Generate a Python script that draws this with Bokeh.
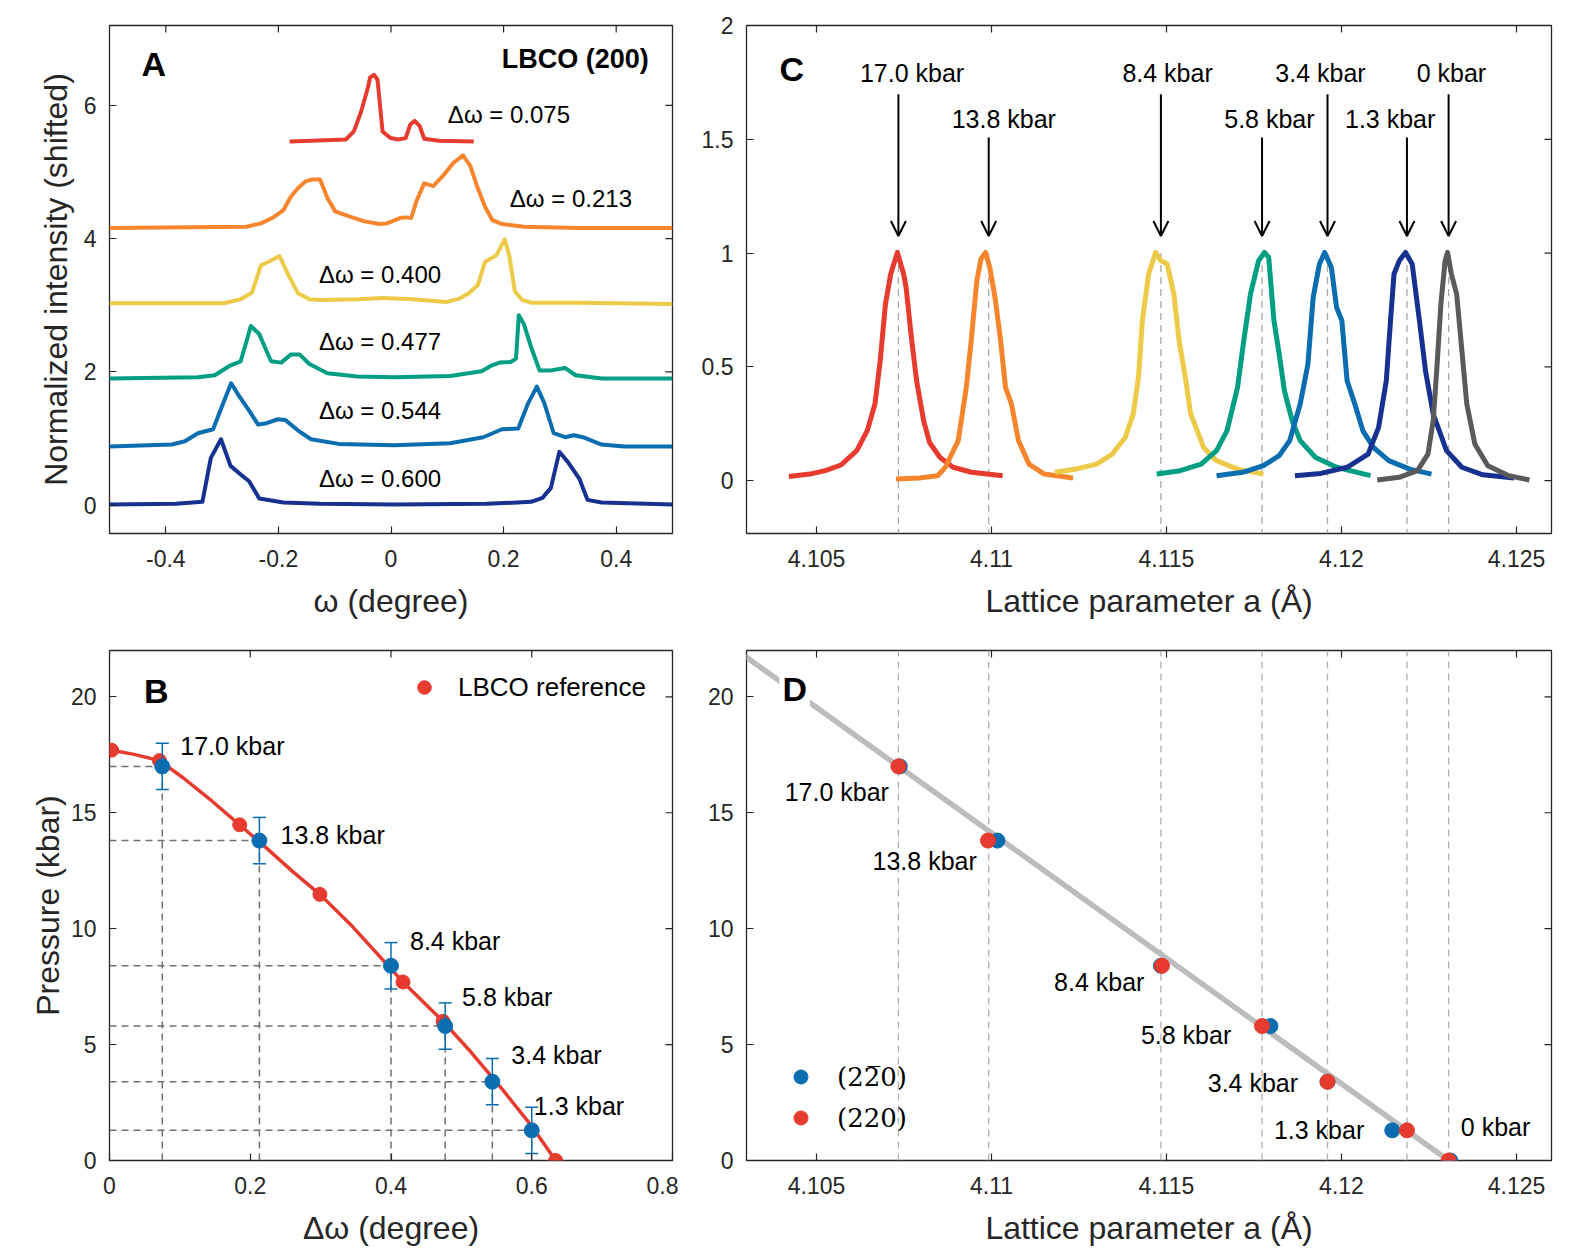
from bokeh.plotting import figure
from bokeh.layouts import row, column
from bokeh.models import (FixedTicker, ColumnDataSource, Whisker, TeeHead,
                          Arrow, OpenHead, Label, Legend, LegendItem, Range1d)
from bokeh.core.properties import value
from bokeh.embed import file_html
from bokeh.resources import INLINE

FONT = "Liberation Sans"
SERIF = "DejaVu Serif"
RED, ORANGE, YELLOW = "#e63b2e", "#f7852e", "#edca48"
GREEN, BLUE, NAVY, DGRAY = "#009e82", "#0a6db0", "#16318f", "#5a5a5a"
AXC = "#262626"

# ---------------- Panel A : rocking curves (shifted) ----------------
a_labels = ["Δω = 0.075", "Δω = 0.213", "Δω = 0.400", "Δω = 0.477", "Δω = 0.544", "Δω = 0.600"]
a_label_x = [0.101, 0.211, -0.128, -0.128, -0.128, -0.128]
a_label_y = [5.87, 4.61, 3.47, 2.45, 1.42, 0.40]

w075 = [-0.180, -0.080, -0.066, -0.053, -0.041, -0.037, -0.030, -0.024, -0.019, -0.015, -0.001,
        0.013, 0.026, 0.034, 0.042, 0.051, 0.059, 0.085, 0.147]
y075 = [5.46, 5.49, 5.61, 5.91, 6.27, 6.42, 6.46, 6.39, 5.96, 5.61, 5.51, 5.49, 5.51, 5.71, 5.77,
        5.69, 5.50, 5.47, 5.46]
w213 = [-0.500, -0.257, -0.231, -0.211, -0.191, -0.178, -0.165, -0.152, -0.139, -0.126, -0.113,
        -0.099, -0.073, -0.047, -0.020, -0.007, 0.016, 0.026, 0.036, 0.045, 0.059, 0.075, 0.091,
        0.111, 0.128, 0.141, 0.154, 0.167, 0.180, 0.197, 0.236, 0.335, 0.500]
y213 = [4.16, 4.18, 4.23, 4.31, 4.43, 4.63, 4.76, 4.86, 4.89, 4.89, 4.61, 4.41, 4.33, 4.26, 4.22,
        4.23, 4.31, 4.32, 4.31, 4.56, 4.83, 4.79, 4.93, 5.14, 5.25, 5.09, 4.76, 4.48, 4.28, 4.22,
        4.18, 4.16, 4.16]
w400 = [-0.500, -0.297, -0.267, -0.247, -0.231, -0.218, -0.198, -0.182, -0.165, -0.145, -0.126,
        -0.060, -0.014, 0.039, 0.098, 0.121, 0.138, 0.154, 0.167, 0.187, 0.202, 0.210, 0.220,
        0.233, 0.249, 0.335, 0.500]
y400 = [3.03, 3.03, 3.09, 3.19, 3.60, 3.65, 3.74, 3.45, 3.18, 3.09, 3.08, 3.09, 3.11, 3.09, 3.05,
        3.10, 3.18, 3.30, 3.65, 3.75, 3.99, 3.75, 3.21, 3.08, 3.04, 3.04, 3.02]
w477 = [-0.500, -0.343, -0.313, -0.287, -0.267, -0.257, -0.249, -0.234, -0.224, -0.213, -0.195,
        -0.178, -0.162, -0.145, -0.113, -0.060, 0.006, 0.105, 0.161, 0.177, 0.193, 0.213, 0.222,
        0.227, 0.236, 0.249, 0.264, 0.282, 0.309, 0.328, 0.374, 0.500]
y477 = [1.90, 1.92, 1.95, 2.09, 2.16, 2.45, 2.69, 2.57, 2.37, 2.16, 2.14, 2.26, 2.26, 2.12, 1.98,
        1.93, 1.92, 1.94, 2.01, 2.09, 2.14, 2.15, 2.20, 2.85, 2.72, 2.37, 2.02, 2.02, 2.06, 1.95,
        1.90, 1.90]
w544 = [-0.500, -0.389, -0.366, -0.343, -0.316, -0.300, -0.284, -0.270, -0.252, -0.236, -0.221,
        -0.201, -0.188, -0.165, -0.142, -0.093, 0.006, 0.105, 0.164, 0.197, 0.226, 0.243, 0.259,
        0.272, 0.289, 0.309, 0.325, 0.341, 0.374, 0.414, 0.500]
y544 = [0.88, 0.91, 0.96, 1.08, 1.14, 1.49, 1.83, 1.64, 1.42, 1.21, 1.23, 1.29, 1.28, 1.12, 0.99,
        0.92, 0.90, 0.93, 1.02, 1.14, 1.15, 1.52, 1.78, 1.54, 1.08, 1.02, 1.05, 1.02, 0.91, 0.88,
        0.88]
w600 = [-0.500, -0.382, -0.335, -0.320, -0.302, -0.285, -0.267, -0.252, -0.234, -0.191, -0.126,
        0.006, 0.170, 0.249, 0.269, 0.284, 0.299, 0.315, 0.335, 0.349, 0.374, 0.500]
y600 = [0.01, 0.02, 0.05, 0.71, 0.99, 0.59, 0.46, 0.36, 0.10, 0.04, 0.02, 0.01, 0.02, 0.05, 0.11,
        0.26, 0.80, 0.64, 0.39, 0.08, 0.04, 0.01]

a_xticks = [-0.4, -0.2, 0, 0.2, 0.4]
a_xtick_labels = ["-0.4", "-0.2", "0", "0.2", "0.4"]
a_yticks = [0, 2, 4, 6]
a_ytick_labels = ["0", "2", "4", "6"]

# ---------------- Panel C : lattice-parameter peaks ----------------
pressures = [17.0, 13.8, 8.4, 5.8, 3.4, 1.3, 0.0]
p_labels = ["17.0 kbar", "13.8 kbar", "8.4 kbar", "5.8 kbar", "3.4 kbar", "1.3 kbar", "0 kbar"]
peak_a = [4.10734, 4.10992, 4.11484, 4.11773, 4.11960, 4.12187, 4.12306]
arrow_top = [1.698, 1.508, 1.698, 1.508, 1.698, 1.508, 1.698]
c_label_a = [4.10773, 4.11035, 4.11503, 4.11794, 4.11940, 4.12139, 4.12314]
c_label_y = [1.79, 1.59, 1.79, 1.59, 1.79, 1.59, 1.79]

c_a_170 = [4.10421, 4.10481, 4.10525, 4.10570, 4.10615, 4.10645, 4.10667, 4.10682, 4.10697,
           4.10712, 4.10731, 4.10749, 4.10756, 4.10771, 4.10786, 4.10806, 4.10823, 4.10853,
           4.10890, 4.10943, 4.11032]
c_i_170 = [0.018, 0.029, 0.044, 0.069, 0.132, 0.220, 0.337, 0.527, 0.776, 0.908, 1.003, 0.908,
           0.849, 0.630, 0.439, 0.264, 0.168, 0.102, 0.059, 0.037, 0.022]
c_a_138 = [4.10727, 4.10794, 4.10846, 4.10868, 4.10905, 4.10928, 4.10943, 4.10958, 4.10970,
           4.10983, 4.10995, 4.11010, 4.11025, 4.11040, 4.11057, 4.11077, 4.11107, 4.11151,
           4.11233]
c_i_138 = [0.007, 0.012, 0.022, 0.059, 0.176, 0.410, 0.630, 0.878, 0.974, 1.003, 0.937, 0.805,
           0.630, 0.410, 0.337, 0.176, 0.073, 0.029, 0.012]
c_a_84 = [4.11181, 4.11241, 4.11300, 4.11345, 4.11382, 4.11405, 4.11420, 4.11431, 4.11449,
          4.11469, 4.11484, 4.11502, 4.11521, 4.11536, 4.11554, 4.11569, 4.11584, 4.11606,
          4.11643, 4.11703, 4.11777]
c_i_84 = [0.037, 0.051, 0.073, 0.117, 0.190, 0.293, 0.454, 0.703, 0.908, 1.003, 0.966, 0.952,
          0.820, 0.615, 0.454, 0.293, 0.234, 0.146, 0.088, 0.051, 0.029]
c_a_58 = [4.11472, 4.11539, 4.11599, 4.11643, 4.11673, 4.11703, 4.11722, 4.11740, 4.11763,
          4.11780, 4.11792, 4.11807, 4.11822, 4.11837, 4.11859, 4.11882, 4.11926, 4.11986,
          4.12083]
c_i_58 = [0.029, 0.044, 0.073, 0.132, 0.220, 0.410, 0.630, 0.820, 0.966, 1.003, 0.981, 0.703,
          0.556, 0.395, 0.264, 0.176, 0.102, 0.059, 0.022]
c_a_34 = [4.11643, 4.11718, 4.11777, 4.11822, 4.11852, 4.11882, 4.11904, 4.11919, 4.11937,
          4.11952, 4.11971, 4.11986, 4.12001, 4.12016, 4.12038, 4.12061, 4.12091, 4.12135,
          4.12195, 4.12257]
c_i_34 = [0.022, 0.037, 0.066, 0.110, 0.176, 0.337, 0.512, 0.805, 0.952, 1.003, 0.937, 0.761,
          0.703, 0.439, 0.337, 0.220, 0.146, 0.088, 0.051, 0.029]
c_a_13 = [4.11867, 4.11941, 4.12016, 4.12076, 4.12106, 4.12128, 4.12140, 4.12150, 4.12165,
          4.12183, 4.12202, 4.12225, 4.12240, 4.12262, 4.12300, 4.12344, 4.12404, 4.12493]
c_i_13 = [0.022, 0.032, 0.059, 0.117, 0.234, 0.439, 0.703, 0.908, 0.966, 1.003, 0.952, 0.674,
          0.483, 0.293, 0.132, 0.059, 0.026, 0.012]
c_a_0 = [4.12102, 4.12165, 4.12217, 4.12247, 4.12262, 4.12272, 4.12284, 4.12296, 4.12303,
         4.12314, 4.12329, 4.12344, 4.12358, 4.12381, 4.12418, 4.12478, 4.12537]
c_i_0 = [0.003, 0.015, 0.044, 0.117, 0.264, 0.483, 0.776, 0.966, 1.003, 0.908, 0.820, 0.571,
         0.337, 0.161, 0.066, 0.022, 0.003]

lat_ticks = [4.105, 4.11, 4.115, 4.12, 4.125]
lat_tick_labels = ["4.105", "4.11", "4.115", "4.12", "4.125"]
c_yticks = [0, 0.5, 1, 1.5, 2]
c_ytick_labels = ["0", "0.5", "1", "1.5", "2"]

# ---------------- Panel B : pressure calibration ----------------
ref_dw = [0.003, 0.071, 0.185, 0.299, 0.417, 0.474, 0.634]
ref_p = [17.70, 17.25, 14.48, 11.48, 7.70, 6.00, 0.00]
fit_dw = [0.003, 0.035, 0.071, 0.105, 0.145, 0.185, 0.220, 0.260, 0.299, 0.345, 0.390, 0.417,
          0.474, 0.510, 0.560, 0.600, 0.634]
fit_p = [17.70, 17.52, 17.25, 16.50, 15.52, 14.48, 13.56, 12.47, 11.48, 10.10, 8.60, 7.70,
         6.00, 4.80, 3.00, 1.48, 0.00]
meas_dw = [0.075, 0.213, 0.400, 0.477, 0.544, 0.600]
meas_p = [17.0, 13.8, 8.4, 5.8, 3.4, 1.3]
meas_err = [1.0, 1.0, 1.0, 1.0, 1.0, 1.0]
b_labels = ["17.0 kbar", "13.8 kbar", "8.4 kbar", "5.8 kbar", "3.4 kbar", "1.3 kbar"]
b_label_x = [0.1005, 0.243, 0.427, 0.501, 0.571, 0.603]
b_label_y = [17.86, 14.05, 9.45, 7.07, 4.55, 2.33]
b_xticks = [0, 0.2, 0.4, 0.6, 0.8]
b_xtick_labels = ["0", "0.2", "0.4", "0.6", "0.8"]
p_ticks = [0, 5, 10, 15, 20]
p_tick_labels = ["0", "5", "10", "15", "20"]

# ---------------- Panel D : pressure vs lattice parameter ----------------
a_2m20 = [4.10738, 4.11017, 4.11484, 4.11797, 4.11960, 4.12145, 4.12311]
a_220 = [4.10734, 4.10990, 4.11487, 4.11773, 4.11960, 4.12187, 4.12306]
fit_slope = -1082.0      # kbar per Angstrom
fit_a_zero = 4.12306     # lattice parameter at zero pressure
d_label_a = [4.10707, 4.10958, 4.11437, 4.11685, 4.11876, 4.12065, 4.12341]
d_label_p = [15.90, 12.92, 7.68, 5.43, 3.35, 1.32, 1.43]
d_legend_labels = ["(22\u03050)", "(220)"]

TICK_PX = 7

# ---------------- helpers ----------------
def make_fig(xr, yr, fw, fh, bl, br, bt, bb):
    p = figure(x_range=Range1d(*xr), y_range=Range1d(*yr), frame_width=fw, frame_height=fh,
               min_border_left=bl, min_border_right=br, min_border_top=bt, min_border_bottom=bb,
               output_backend="svg", toolbar_location=None, background_fill_color="white",
               border_fill_color="white")
    p.xgrid.visible = False
    p.ygrid.visible = False
    p.outline_line_color = AXC
    p.outline_line_width = 1.3
    p.outline_line_alpha = 1.0
    return p


def style_axes(p, xt, xl, yt, yl, xr, yr, fw, fh, xlabel=None, ylabel=None, ystand=8):
    p.xaxis.ticker = FixedTicker(ticks=xt)
    p.xaxis.major_label_overrides = {t: l for t, l in zip(xt, xl)}
    p.yaxis.ticker = FixedTicker(ticks=yt)
    p.yaxis.major_label_overrides = {t: l for t, l in zip(yt, yl)}
    for ax in p.xaxis + p.yaxis:
        ax.major_tick_in = TICK_PX
        ax.major_tick_out = 0
        ax.minor_tick_line_color = None
        ax.axis_line_color = None
        ax.major_tick_line_color = AXC
        ax.major_tick_line_width = 1.2
        ax.major_label_text_font = FONT
        ax.major_label_text_font_size = "23px"
        ax.major_label_text_color = AXC
        ax.axis_label_text_font = FONT
        ax.axis_label_text_font_size = "32px"
        ax.axis_label_text_font_style = "normal"
        ax.axis_label_text_color = AXC
    p.xaxis.major_label_standoff = 16
    p.yaxis.major_label_standoff = 13
    if xlabel:
        p.xaxis.axis_label = xlabel
        p.xaxis.axis_label_standoff = 13
    if ylabel:
        p.yaxis.axis_label = ylabel
        p.yaxis.axis_label_standoff = ystand
    # mirrored tick marks on the top and right edges of the box
    ty = (yr[1] - yr[0]) * TICK_PX / fh
    tx = (xr[1] - xr[0]) * TICK_PX / fw
    p.segment(x0=xt, y0=[yr[1]] * len(xt), x1=xt, y1=[yr[1] - ty] * len(xt),
              line_color=AXC, line_width=1.2)
    p.segment(x0=[xr[1]] * len(yt), y0=yt, x1=[xr[1] - tx] * len(yt), y1=yt,
              line_color=AXC, line_width=1.2)


def letter(p, x, y, t, bg=None):
    lab = Label(x=x, y=y, text=t, text_font=FONT, text_font_style="bold",
                text_font_size="34px", text_baseline="middle", text_align="left",
                text_color="black")
    if bg:
        lab.background_fill_color = bg
        lab.padding = 3
    p.add_layout(lab)

# ---------------- Panel A ----------------
A_XR, A_YR = (-0.5, 0.5), (-0.425, 7.2)
pa = make_fig(A_XR, A_YR, 563, 508, 109, 6, 25, 107)
style_axes(pa, a_xticks, a_xtick_labels, a_yticks, a_ytick_labels, A_XR, A_YR, 563, 508,
           "ω (degree)", "Normalized intensity (shifted)", ystand=7)
for xs, ys, c in ((w600, y600, NAVY), (w544, y544, BLUE), (w477, y477, GREEN),
                  (w400, y400, YELLOW), (w213, y213, ORANGE), (w075, y075, RED)):
    pa.line(xs, ys, line_color=c, line_width=4, line_join="round")
pa.text(x=a_label_x, y=a_label_y, text=a_labels, text_font=value(FONT),
        text_font_size=value("24px"), text_baseline="middle", text_align="left",
        text_color="black")
pa.add_layout(Label(x=0.458, y=6.69, text="LBCO (200)", text_font=FONT, text_font_style="bold",
                    text_font_size="27px", text_baseline="middle", text_align="right",
                    text_color="black"))
letter(pa, -0.443, 6.62, "A")

# ---------------- Panel C ----------------
C_XR, C_YR = (4.103, 4.126), (-0.232, 2.0)
pc = make_fig(C_XR, C_YR, 805, 508, 68, 38, 25, 107)
style_axes(pc, lat_ticks, lat_tick_labels, c_yticks, c_ytick_labels, C_XR, C_YR, 805, 508,
           "Lattice parameter a (Å)", None)
pc.segment(x0=peak_a, y0=[1.0] * len(peak_a), x1=peak_a, y1=[C_YR[0]] * len(peak_a),
           line_color="#a8a8a8", line_width=1.3, line_dash="7 5")
for xs, ys, c in ((c_a_170, c_i_170, RED), (c_a_138, c_i_138, ORANGE), (c_a_84, c_i_84, YELLOW),
                  (c_a_58, c_i_58, GREEN), (c_a_34, c_i_34, BLUE), (c_a_13, c_i_13, NAVY),
                  (c_a_0, c_i_0, DGRAY)):
    pc.line(xs, ys, line_color=c, line_width=5, line_join="round")
arr_src = ColumnDataSource(dict(x=peak_a, y0=arrow_top, y1=[1.075] * len(peak_a)))
pc.add_layout(Arrow(end=OpenHead(size=15, line_width=2, line_color="black"),
                    x_start="x", y_start="y0", x_end="x", y_end="y1", source=arr_src,
                    line_color="black", line_width=2))
pc.text(x=c_label_a, y=c_label_y, text=p_labels, text_font=value(FONT),
        text_font_size=value("25px"), text_baseline="middle", text_align="center",
        text_color="black")
letter(pc, 4.10394, 1.808, "C")

# ---------------- Panel B ----------------
B_XR, B_YR = (0, 0.8), (0, 22)
pb = make_fig(B_XR, B_YR, 563, 510, 109, 6, 10, 88)
style_axes(pb, b_xticks, b_xtick_labels, p_ticks, p_tick_labels, B_XR, B_YR, 563, 510,
           "Δω (degree)", "Pressure (kbar)", ystand=2)
n = len(meas_dw)
pb.segment(x0=[0.0] * n, y0=meas_p, x1=meas_dw, y1=meas_p, line_color="#707070",
           line_width=1.5, line_dash="7 5")
pb.segment(x0=meas_dw, y0=[0.0] * n, x1=meas_dw, y1=meas_p, line_color="#707070",
           line_width=1.5, line_dash="7 5")
pb.line(fit_dw, fit_p, line_color=RED, line_width=3.5, line_join="round")
r_ref = pb.scatter(ref_dw, ref_p, size=14, fill_color=RED, line_color=RED)
err_src = ColumnDataSource(dict(x=meas_dw, up=[p + e for p, e in zip(meas_p, meas_err)],
                                lo=[p - e for p, e in zip(meas_p, meas_err)]))
pb.add_layout(Whisker(base="x", upper="up", lower="lo", source=err_src, level="glyph",
                      line_color=BLUE, line_width=1.5,
                      upper_head=TeeHead(size=13, line_color=BLUE, line_width=1.5),
                      lower_head=TeeHead(size=13, line_color=BLUE, line_width=1.5)))
pb.scatter(meas_dw, meas_p, size=15, fill_color=BLUE, line_color=BLUE)
pb.text(x=b_label_x, y=b_label_y, text=b_labels, text_font=value(FONT),
        text_font_size=value("25px"), text_baseline="middle", text_align="left",
        text_color="black")
leg_b = Legend(items=[LegendItem(label="LBCO reference", renderers=[r_ref])],
               location=(298, 456), border_line_color=None, background_fill_alpha=0,
               padding=0, margin=0, spacing=0, glyph_width=34, glyph_height=34,
               label_height=34, label_standoff=17, label_text_font=FONT,
               label_text_font_size="26px", label_text_color="black")
pb.add_layout(leg_b)
letter(pb, 0.049, 20.26, "B")

# ---------------- Panel D ----------------
D_XR, D_YR = (4.103, 4.126), (0, 22)
pd_ = make_fig(D_XR, D_YR, 805, 510, 68, 38, 10, 88)
style_axes(pd_, lat_ticks, lat_tick_labels, p_ticks, p_tick_labels, D_XR, D_YR, 805, 510,
           "Lattice parameter a (Å)", None)
m = len(peak_a)
pd_.segment(x0=peak_a, y0=[D_YR[0]] * m, x1=peak_a, y1=[D_YR[1]] * m, line_color="#b0b0b0",
            line_width=1.3, line_dash="7 5")
fit_x = [4.1025, 4.1235]
fit_y = [fit_slope * (x - fit_a_zero) for x in fit_x]
pd_.line(fit_x, fit_y, line_color="#bcbcbc", line_width=5.5)
r_b = pd_.scatter(a_2m20, pressures, size=15, fill_color=BLUE, line_color=BLUE)
r_r = pd_.scatter(a_220, pressures, size=15, fill_color=RED, line_color=RED)
pd_.text(x=d_label_a[:6], y=d_label_p[:6], text=p_labels[:6], text_font=value(FONT),
         text_font_size=value("25px"), text_baseline="middle", text_align="right",
         text_color="black")
pd_.text(x=d_label_a[6:], y=d_label_p[6:], text=p_labels[6:], text_font=value(FONT),
         text_font_size=value("25px"), text_baseline="middle", text_align="left",
         text_color="black")
leg_d = Legend(items=[LegendItem(label=d_legend_labels[0], renderers=[r_b]),
                      LegendItem(label=d_legend_labels[1], renderers=[r_r])],
               location=(37, 25), border_line_color=None, background_fill_alpha=0,
               padding=0, margin=0, spacing=6, glyph_width=35, glyph_height=35,
               label_height=35, label_standoff=19, label_text_font=SERIF,
               label_text_font_size="26px", label_text_color="black")
pd_.add_layout(leg_d)
letter(pd_, 4.10394, 20.34, "D", bg="white")

layout = column(row(pa, pc), row(pb, pd_))
open("out.html", "w").write(file_html(layout, INLINE))
